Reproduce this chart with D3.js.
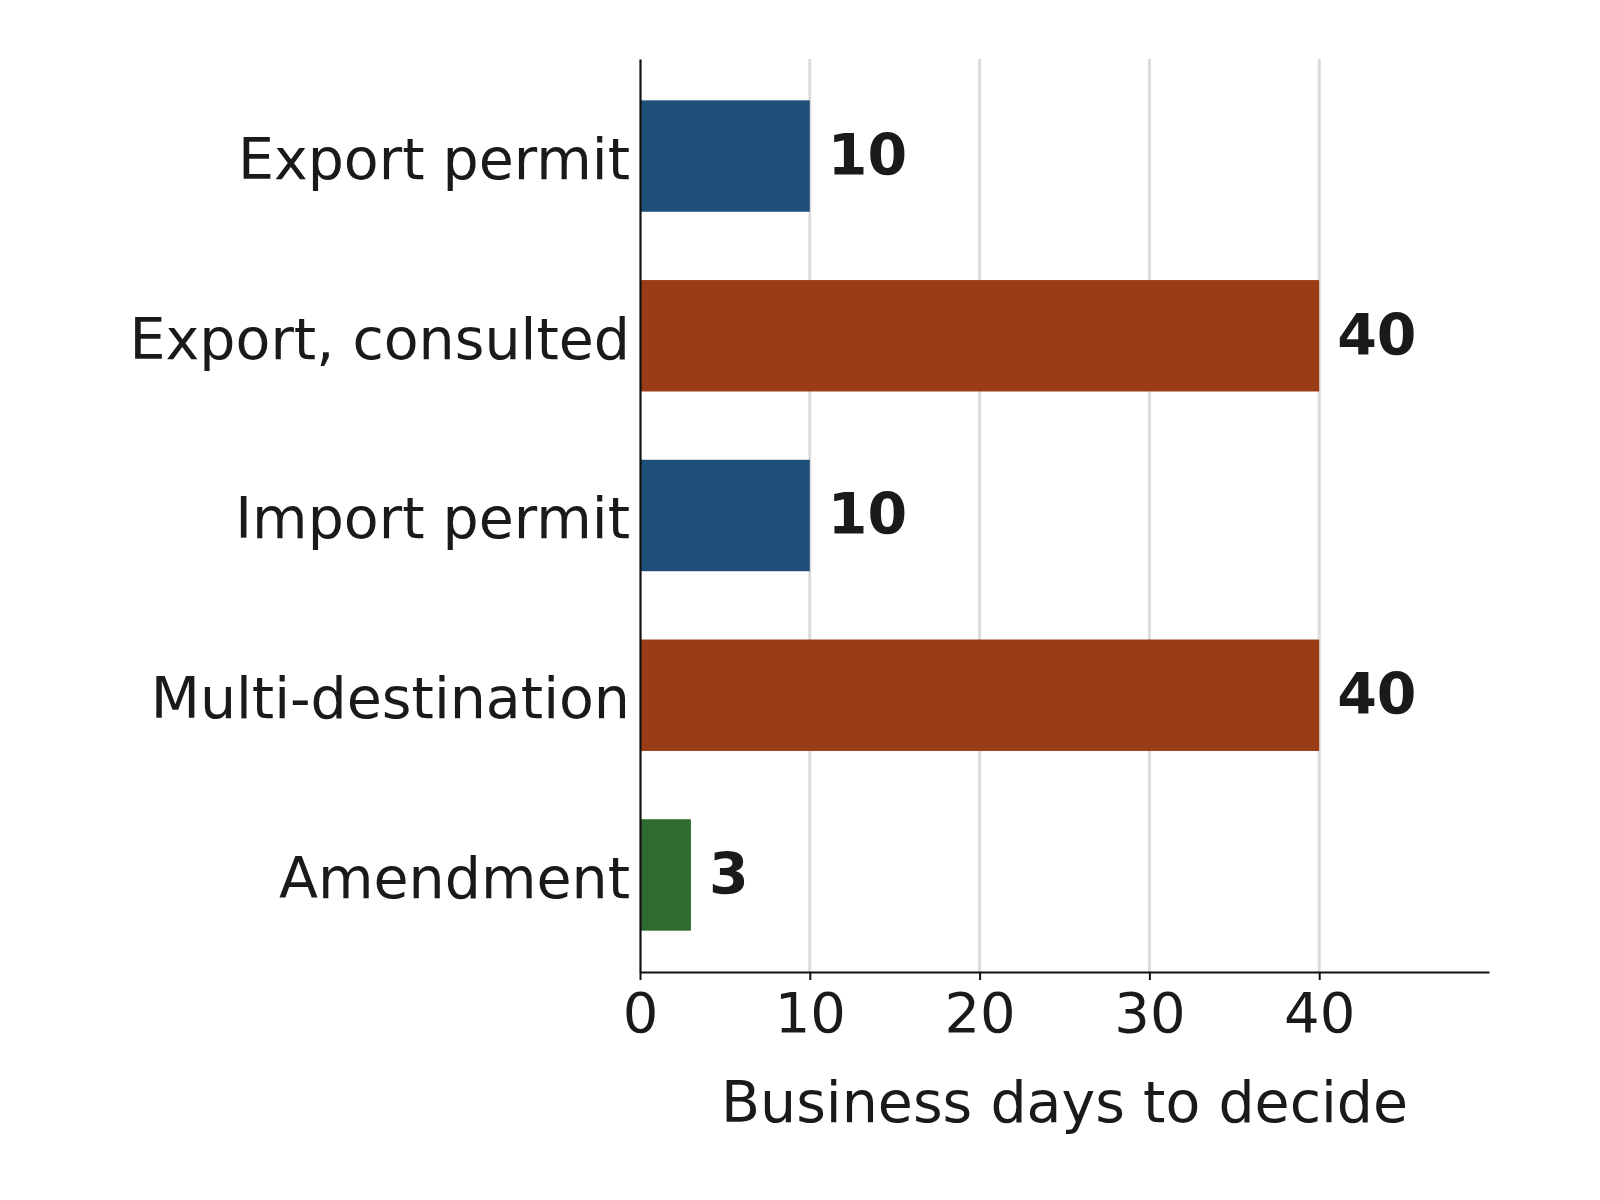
<!DOCTYPE html>
<html>
<head>
<meta charset="utf-8">
<script src="https://cdn.jsdelivr.net/npm/d3@7"></script>
<style>
  body { margin: 0; background: #fff; }
  text { font-family: "DejaVu Sans", sans-serif; fill: #1a1a1a; }
</style>
</head>
<body>
<div id="chart"></div>
<script>
// chart data
const categories = ["Export permit", "Export, consulted", "Import permit", "Multi-destination", "Amendment"];
const days = [10, 40, 10, 40, 3];
const barColors = ["#1f4e79", "#9a3c16", "#1f4e79", "#9a3c16", "#2e6b30"];
const xTicks = [0, 10, 20, 30, 40];

// define margins
let margin = {top: 59, right: 111, bottom: 228, left: 640},
    width = 1600 - margin.left - margin.right,
    height = 1200 - margin.top - margin.bottom;

let svg = d3.select("#chart")
    .append("svg")
    .attr("width", 1600)
    .attr("height", 1200)
    .append("g")
    .attr("transform", "translate(" + margin.left + "," + margin.top + ")");

// scales
const x = d3.scaleLinear()
    .domain([0, 50])
    .range([0, width]);

const y = d3.scaleBand()
    .domain(categories)
    .range([0, height])
    .paddingInner(0.38)
    .paddingOuter(0.23);

// grid lines
svg.selectAll(".grid")
    .data(xTicks.filter(d => d > 0))
    .enter().append("line")
    .attr("class", "grid")
    .attr("x1", d => x(d))
    .attr("x2", d => x(d))
    .attr("y1", 0)
    .attr("y2", height)
    .attr("stroke", "#dcdcdc")
    .attr("stroke-width", 3);

// bars
svg.selectAll(".bar")
    .data(categories)
    .enter().append("rect")
    .attr("class", "bar")
    .attr("x", x(0))
    .attr("y", d => y(d))
    .attr("width", (d, i) => x(days[i]) - x(0))
    .attr("height", y.bandwidth())
    .attr("fill", (d, i) => barColors[i]);

// value labels
svg.selectAll(".bar-label")
    .data(categories)
    .enter().append("text")
    .attr("class", "bar-label")
    .attr("x", (d, i) => x(days[i]) + 18)
    .attr("y", d => y(d) + y.bandwidth() / 2)
    .attr("dy", "0.33em")
    .style("font-size", "57px")
    .style("font-weight", "bold")
    .text((d, i) => days[i]);

// x axis
const xAxis = svg.append("g")
    .attr("transform", "translate(0," + height + ")")
    .call(d3.axisBottom(x).tickValues(xTicks).tickSize(8).tickSizeOuter(0).tickPadding(12));
xAxis.select(".domain").attr("stroke", "#111").attr("stroke-width", 2.2);
xAxis.selectAll(".tick line").attr("stroke", "#111").attr("stroke-width", 2);
xAxis.selectAll(".tick text")
    .style("font-size", "56px")
    .style("font-family", "DejaVu Sans, sans-serif")
    .attr("fill", "#1a1a1a");

// y axis
const yAxis = svg.append("g")
    .call(d3.axisLeft(y).tickSize(0).tickPadding(10));
yAxis.select(".domain").attr("stroke", "#111").attr("stroke-width", 2.2);
yAxis.selectAll(".tick text")
    .attr("dy", "0.4em")
    .style("font-size", "57px")
    .style("font-family", "DejaVu Sans, sans-serif")
    .attr("fill", "#1a1a1a");

// axis title
svg.append("text")
    .attr("x", width / 2)
    .attr("y", height + 150)
    .attr("text-anchor", "middle")
    .style("font-size", "57px")
    .text("Business days to decide");
</script>
</body>
</html>
